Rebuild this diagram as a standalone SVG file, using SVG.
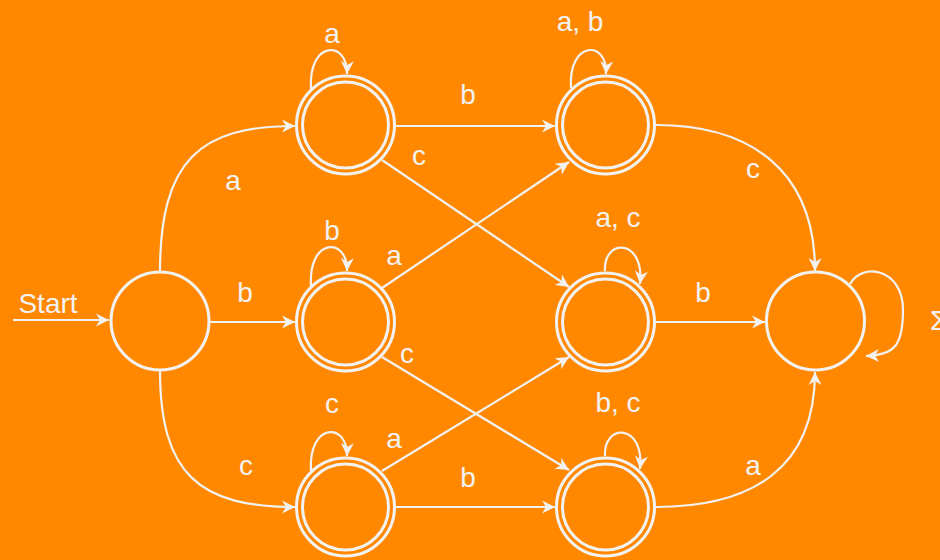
<svg xmlns="http://www.w3.org/2000/svg" width="940" height="560" viewBox="0 0 940 560">
  <style>
    .bg { fill: #FF8800; }
    .state { fill: none; stroke: #F2F2F2; stroke-width: 3; }
    .edge { fill: none; stroke: #F2F2F2; stroke-width: 2.2; marker-end: url(#arrow); }
    .lbl { font-family: "Liberation Sans", Arial, sans-serif; font-size: 28px; fill: #F2F2F2; text-anchor: middle; }
  </style>
  <defs>
    <marker id="arrow" markerUnits="userSpaceOnUse" viewBox="-15 -8 16 16" refX="0" refY="0" markerWidth="16" markerHeight="16" orient="auto">
      <path d="M-13,-6.5 L0,0 L-13,6.5 L-9,0 z" fill="#F2F2F2"/>
    </marker>
  </defs>

  <rect class="bg" x="0" y="0" width="940" height="560"/>

  <!-- states -->
  <g id="q0">
    <circle class="state" cx="160" cy="321" r="49"/>
  </g>
  <g id="qa">
    <circle class="state" cx="345.5" cy="125" r="49"/>
    <circle class="state" cx="345.5" cy="125" r="43"/>
  </g>
  <g id="qb">
    <circle class="state" cx="345.5" cy="322" r="49"/>
    <circle class="state" cx="345.5" cy="322" r="43"/>
  </g>
  <g id="qc">
    <circle class="state" cx="345.5" cy="507" r="49"/>
    <circle class="state" cx="345.5" cy="507" r="43"/>
  </g>
  <g id="qab">
    <circle class="state" cx="605.5" cy="125" r="49"/>
    <circle class="state" cx="605.5" cy="125" r="43"/>
  </g>
  <g id="qac">
    <circle class="state" cx="605.5" cy="322" r="49"/>
    <circle class="state" cx="605.5" cy="322" r="43"/>
  </g>
  <g id="qbc">
    <circle class="state" cx="605.5" cy="507" r="49"/>
    <circle class="state" cx="605.5" cy="507" r="43"/>
  </g>
  <g id="qdead">
    <circle class="state" cx="815.5" cy="321" r="49"/>
  </g>

  <!-- transitions -->
  <g id="edges">
    <path class="edge" d="M13,320 L109,320"/>
    <path class="edge" d="M160,272 C160,160 200,126 295,126"/>
    <path class="edge" d="M209,322 L295,322"/>
    <path class="edge" d="M160,370 C160,475 200,507 295,507"/>

    <path class="edge" d="M311,89 C308,40 348,40 347,74"/>
    <path class="edge" d="M311,286 C308,237 348,237 347,271"/>
    <path class="edge" d="M311,471 C308,422 348,422 347,456"/>

    <path class="edge" d="M396,126 L555,126"/>
    <path class="edge" d="M382,160 L569,287"/>
    <path class="edge" d="M382,288 L569,162"/>
    <path class="edge" d="M382,357 L569,470"/>
    <path class="edge" d="M382,471 L569,357"/>
    <path class="edge" d="M396,507 L555,507"/>

    <path class="edge" d="M571,88 C568,40 608,40 606,74"/>
    <path class="edge" d="M605,271 C603,238 645,238 640,284"/>
    <path class="edge" d="M605,456 C603,423 645,423 640,469"/>

    <path class="edge" d="M656,125 C750,125 815,170 815,271"/>
    <path class="edge" d="M656,322 L765,322"/>
    <path class="edge" d="M656,507 C750,507 815,470 815,372"/>

    <path class="edge" d="M850,284 C862,262 903,268 903,310 C903,345 895,355 866,356"/>
  </g>

  <!-- labels -->
  <g id="labels">
    <text class="lbl" x="48" y="313">Start</text>
    <text class="lbl" x="233" y="190">a</text>
    <text class="lbl" x="245" y="302">b</text>
    <text class="lbl" x="246" y="475">c</text>
    <text class="lbl" x="332" y="43">a</text>
    <text class="lbl" x="332" y="240">b</text>
    <text class="lbl" x="332" y="413">c</text>
    <text class="lbl" x="468" y="104">b</text>
    <text class="lbl" x="419" y="165">c</text>
    <text class="lbl" x="394" y="265">a</text>
    <text class="lbl" x="407" y="363">c</text>
    <text class="lbl" x="394" y="448">a</text>
    <text class="lbl" x="468" y="487">b</text>
    <text class="lbl" x="580" y="31">a, b</text>
    <text class="lbl" x="618" y="227">a, c</text>
    <text class="lbl" x="618" y="412">b, c</text>
    <text class="lbl" x="753" y="178">c</text>
    <text class="lbl" x="703" y="302">b</text>
    <text class="lbl" x="753" y="475">a</text>
    <text class="lbl" x="930" y="330" style="text-anchor:start">Σ</text>
  </g>
</svg>
